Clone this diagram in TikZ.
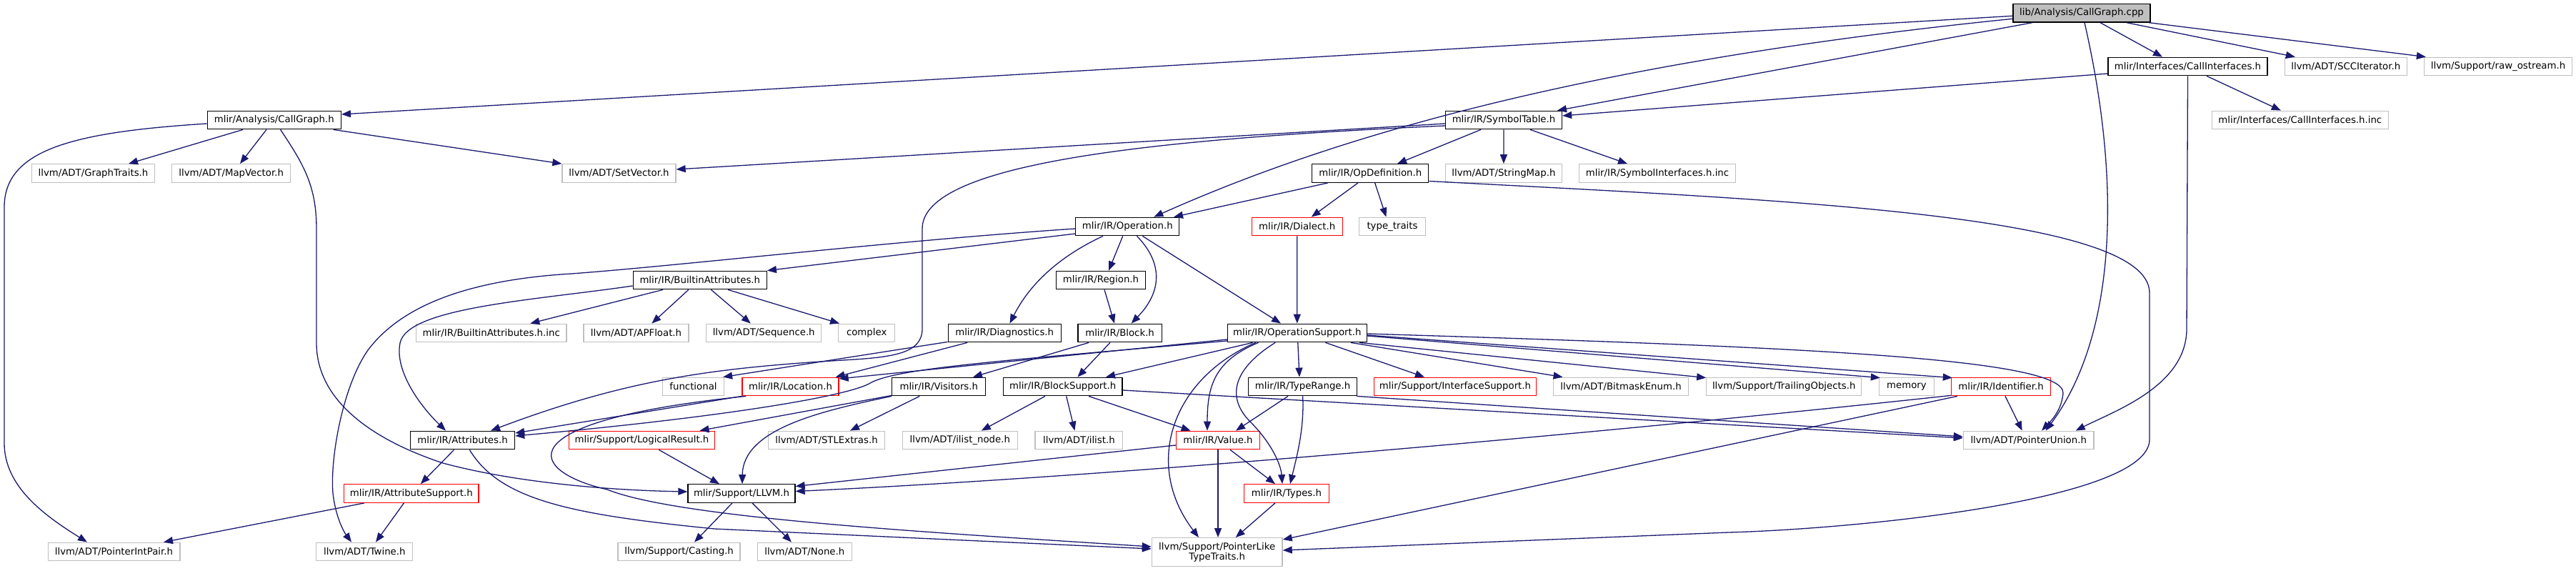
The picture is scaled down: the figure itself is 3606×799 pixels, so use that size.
\documentclass[tikz,border=0pt]{standalone}
\usepackage{fontspec}
\setmainfont{DejaVu Sans}
\usetikzlibrary{arrows.meta,calc}
\definecolor{edgec}{HTML}{191970}
\definecolor{grey75}{HTML}{BFBFBF}
\definecolor{tred}{HTML}{FF0000}
\begin{document}
\begin{tikzpicture}[x=1pt,y=-1pt,
  nb/.style={rectangle, inner sep=0pt, minimum height=25.5pt, line width=1.3pt, fill=white, font=\fontsize{13.3}{14}\selectfont, text=black},
  ndoc/.style={nb, draw=black},
  next/.style={nb, draw=grey75},
  nred/.style={nb, draw=tred},
  nroot/.style={nb, draw=black, fill=grey75},
  dep/.style={draw=edgec, line width=1.3pt, -{Triangle[length=13pt,width=10pt]}}
]
\useasboundingbox (0,0) rectangle (3606,799);

\node[nroot, minimum width=192pt] (cpp) at (2914,18.3) {lib/Analysis/CallGraph.cpp};
\node[ndoc, minimum width=223pt] (cih) at (3062.5,93) {mlir/Interfaces/CallInterfaces.h};
\node[next, minimum width=171pt] (scc) at (3283.8,93) {llvm/ADT/SCCIterator.h};
\node[next, minimum width=207pt] (raw) at (3497,93) {llvm/Support/raw\_ostream.h};
\node[ndoc, minimum width=187pt] (cgh) at (383.8,168) {mlir/Analysis/CallGraph.h};
\node[ndoc, minimum width=163pt] (sym) at (2105,168) {mlir/IR/SymbolTable.h};
\node[next, minimum width=247pt] (cihinc) at (3219.8,168) {mlir/Interfaces/CallInterfaces.h.inc};
\node[next, minimum width=172pt] (gt) at (130.5,242.5) {llvm/ADT/GraphTraits.h};
\node[next, minimum width=166pt] (mv) at (323.7,242.5) {llvm/ADT/MapVector.h};
\node[next, minimum width=159pt] (sv) at (866.5,242.5) {llvm/ADT/SetVector.h};
\node[ndoc, minimum width=163pt] (opdef) at (1918.3,242.5) {mlir/IR/OpDefinition.h};
\node[next, minimum width=163pt] (smap) at (2104.9,242.5) {llvm/ADT/StringMap.h};
\node[next, minimum width=219pt] (syminc) at (2320,242.5) {mlir/IR/SymbolInterfaces.h.inc};
\node[ndoc, minimum width=145pt] (op) at (1578.3,317) {mlir/IR/Operation.h};
\node[nred, minimum width=127pt] (dia) at (1815.7,317) {mlir/IR/Dialect.h};
\node[next, minimum width=92.5pt] (tt) at (1949,317) {type\_traits};
\node[ndoc, minimum width=187pt] (battr) at (979.8,392) {mlir/IR/BuiltinAttributes.h};
\node[ndoc, minimum width=125pt] (reg) at (1541,392) {mlir/IR/Region.h};
\node[next, minimum width=210.6pt] (bainc) at (687.7,466) {mlir/IR/BuiltinAttributes.h.inc};
\node[next, minimum width=147pt] (apf) at (890.5,466) {llvm/ADT/APFloat.h};
\node[next, minimum width=161pt] (seq) at (1069.2,466) {llvm/ADT/Sequence.h};
\node[next, minimum width=79pt] (cpx) at (1213.2,466) {complex};
\node[ndoc, minimum width=158pt] (diag) at (1406.2,466) {mlir/IR/Diagnostics.h};
\node[ndoc, minimum width=117.5pt] (blk) at (1567.6,466) {mlir/IR/Block.h};
\node[ndoc, minimum width=194.7pt] (ops) at (1815.8,466) {mlir/IR/OperationSupport.h};
\node[next, minimum width=86pt] (fun) at (970.5,541) {functional};
\node[nred, minimum width=135pt] (loc) at (1106.5,541) {mlir/IR/Location.h};
\node[ndoc, minimum width=131pt] (vis) at (1314.3,541) {mlir/IR/Visitors.h};
\node[ndoc, minimum width=166.5pt] (bsup) at (1487.7,541) {mlir/IR/BlockSupport.h};
\node[ndoc, minimum width=152pt] (tr) at (1823.6,541) {mlir/IR/TypeRange.h};
\node[nred, minimum width=226.5pt] (isup) at (2037,541) {mlir/Support/InterfaceSupport.h};
\node[next, minimum width=189pt] (bme) at (2269,541) {llvm/ADT/BitmaskEnum.h};
\node[next, minimum width=216.8pt] (trail) at (2497.2,541) {llvm/Support/TrailingObjects.h};
\node[next, minimum width=77pt] (mem) at (2669,541) {memory};
\node[nred, minimum width=139pt] (ident) at (2801,541) {mlir/IR/Identifier.h};
\node[ndoc, minimum width=146pt] (attr) at (647.6,616) {mlir/IR/Attributes.h};
\node[nred, minimum width=204pt] (lres) at (898.5,616) {mlir/Support/LogicalResult.h};
\node[next, minimum width=162.7pt] (stl) at (1157,616) {llvm/ADT/STLExtras.h};
\node[next, minimum width=161pt] (iln) at (1343.8,616) {llvm/ADT/ilist\_node.h};
\node[next, minimum width=122.6pt] (il) at (1510.4,616) {llvm/ADT/ilist.h};
\node[nred, minimum width=117pt] (val) at (1705,616) {mlir/IR/Value.h};
\node[next, minimum width=182.6pt] (pu) at (2839.7,616) {llvm/ADT/PointerUnion.h};
\node[nred, minimum width=188.4pt] (asup) at (575.8,690.5) {mlir/IR/AttributeSupport.h};
\node[ndoc, minimum width=150pt] (llvm) at (1038,690.5) {mlir/Support/LLVM.h};
\node[nred, minimum width=119pt] (types) at (1801,690.5) {mlir/IR/Types.h};
\node[next, minimum width=184.7pt] (pip) at (159.5,772) {llvm/ADT/PointerIntPair.h};
\node[next, minimum width=135pt] (twine) at (510.3,772) {llvm/ADT/Twine.h};
\node[next, minimum width=171pt] (cast) at (950.6,772) {llvm/Support/Casting.h};
\node[next, minimum width=132pt] (none) at (1126.3,772) {llvm/ADT/None.h};
\node[next, minimum width=182.7pt, minimum height=40pt, align=center] (plt) at (1703.7,772.7) {llvm/Support/PointerLike\\TypeTraits.h};

% CallGraph.cpp
\draw[dep] ($(cpp.west)+(0,4)$) -- ($(cgh.east)+(0,-8)$);
\draw[dep] ($(cpp.west)+(0,8)$) .. controls (2219,87) and (1865,192) .. ($(op.north)+(37,0)$);
\draw[dep] ($(cpp.south)+(-69,0)$) -- ($(sym.north)+(75,0)$);
\draw[dep] ($(cpp.south)+(26,0)$) -- ($(cih.north)+(-35.5,0)$);
\draw[dep] ($(cpp.south)+(63,0)$) -- ($(scc.north)+(-71,0)$);
\draw[dep] ($(cpp.south)+(94,0)$) -- ($(raw.north west)+(3,0)$);
\draw[dep] ($(cpp.south)+(4,0)$) .. controls (2975,280) and (2955,480) .. ($(pu.north)+(24,0)$);
% CallInterfaces.h
\draw[dep] ($(cih.west)+(0,10)$) -- ($(sym.east)+(0,-6)$);
\draw[dep] ($(cih.south)+(26.5,0)$) -- ($(cihinc.north)+(-27,0)$);
\draw[dep] (cih.south) -- (3061,460) .. controls (3061,540) and (2960,575) .. ($(pu.north)+(66,0)$);
% SymbolTable.h
\draw[dep] ($(sym.south)+(-32,0)$) -- ($(opdef.north)+(37.7,0)$);
\draw[dep] (sym.south) -- (smap.north);
\draw[dep] ($(sym.south)+(37,0)$) -- ($(syminc.north)+(-42,0)$);
\draw[dep] ($(sym.west)+(0,5)$) -- ($(sv.east)+(0,-5.5)$);
\draw[dep] ($(sym.west)+(0,8)$) .. controls (1600,195) and (1291,230) .. (1291,320) -- (1291,460) .. controls (1291,495) and (1250,500) .. (1180,504) .. controls (1000,515) and (880,530) .. ($(attr.north)+(39.4,0)$);
% CallGraph.h
\draw[dep] ($(cgh.south)+(-43.8,0)$) -- ($(gt.north)+(49.5,0)$);
\draw[dep] ($(cgh.south)+(-10.8,0)$) -- ($(mv.north)+(12.3,0)$);
\draw[dep] ($(cgh.south)+(82.8,0)$) -- (sv.north west);
\draw[dep] ($(cgh.west)+(0,5)$) .. controls (100,185) and (6,210) .. (6,290) -- (6,620) .. controls (6,680) and (60,720) .. ($(pip.north)+(-37.5,0)$);
\draw[dep] ($(cgh.south)+(8.8,0)$) .. controls (425,230) and (443,260) .. (443,320) -- (443,480) .. controls (443,560) and (520,615) .. (620,648) .. controls (720,675) and (850,686) .. ($(llvm.west)+(0,-2.5)$);
% Operation.h
\draw[dep] ($(op.west)+(0,10)$) -- (battr.north east);
\draw[dep] ($(op.west)+(0,3)$) .. controls (1250,337) and (950,372) .. (800,383) .. controls (650,392) and (560,430) .. (515,490) .. controls (480,540) and (462,640) .. (466,690) .. controls (470,725) and (482,745) .. ($(twine.north)+(-18.3,0)$);
\draw[dep] ($(op.south)+(-6.6,0)$) -- ($(reg.north)+(11,0)$);
\draw[dep] ($(op.south)+(-34.3,0)$) .. controls (1480,360) and (1440,400) .. ($(diag.north)+(7.3,0)$);
\draw[dep] ($(op.south)+(13.2,0)$) .. controls (1630,370) and (1625,410) .. ($(blk.north)+(16,0)$);
\draw[dep] ($(op.south)+(21.1,0)$) -- ($(ops.north)+(-22.8,0)$);
% OpDefinition.h
\draw[dep] ($(opdef.south)+(-59.3,0)$) -- ($(op.north)+(64.7,0)$);
\draw[dep] ($(opdef.south)+(-17.3,0)$) -- ($(dia.north)+(20,0)$);
\draw[dep] ($(opdef.south)+(6.3,0)$) -- ($(tt.north)+(-8.6,0)$);
\draw[dep] ($(opdef.east)+(0,11)$) .. controls (2500,280) and (3009,300) .. (3009,410) -- (3009,615) .. controls (3009,700) and (2600,740) .. (2420,745) -- ($(plt.east)+(0,-2.7)$);
% Dialect.h
\draw[dep] (dia.south) -- (ops.north);
% BuiltinAttributes.h
\draw[dep] ($(battr.south)+(-51.8,0)$) -- ($(bainc.north)+(54.6,0)$);
\draw[dep] ($(battr.south)+(-16,0)$) -- ($(apf.north)+(21.9,0)$);
\draw[dep] ($(battr.south)+(15.6,0)$) -- ($(seq.north)+(-18.4,0)$);
\draw[dep] ($(battr.south)+(39.2,0)$) -- ($(cpx.north west)+(2,0)$);
\draw[dep] ($(battr.west)+(0,8)$) .. controls (750,420) and (570,430) .. (560,480) .. controls (552,520) and (590,570) .. ($(attr.north)+(-23.6,0)$);
% Region.h
\draw[dep] ($(reg.south)+(5,0)$) -- ($(blk.north)+(-7.6,0)$);
% Diagnostics.h
\draw[dep] ($(diag.south west)+(0,-1)$) -- ($(fun.north east)+(-2,0)$);
\draw[dep] ($(diag.south)+(-52,0)$) -- ($(loc.north east)+(-5,0)$);
% Block.h
\draw[dep] ($(blk.south)+(-43.4,0)$) -- ($(vis.north)+(47.7,0)$);
\draw[dep] ($(blk.south)+(-13.6,0)$) -- ($(bsup.north)+(20.7,0)$);
% OperationSupport.h
\draw[dep] ($(ops.west)+(0,9)$) -- ($(loc.east)+(0,-11)$);
\draw[dep] ($(ops.west)+(0,11)$) .. controls (1400,505) and (1260,515) .. (1220,535) .. controls (1190,555) and (1000,585) .. ($(attr.east)+(0,-6)$);
\draw[dep] ($(ops.south)+(-62.2,0)$) -- ($(bsup.north)+(60.3,0)$);
\draw[dep] ($(ops.south)+(1,0)$) -- ($(tr.north)+(-4.6,0)$);
\draw[dep] ($(ops.south)+(39.6,0)$) -- ($(isup.north)+(-43,0)$);
\draw[dep] ($(ops.south)+(75,0)$) -- ($(bme.north)+(-81.5,0)$);
\draw[dep] ($(ops.south)+(87,0)$) -- ($(trail.north west)+(0,1)$);
\draw[dep] ($(ops.east)+(0,4)$) -- ($(mem.north west)+(2,1)$);
\draw[dep] ($(ops.east)+(0,3)$) -- ($(ident.north west)+(2,1)$);
\draw[dep] ($(ops.east)+(0,1)$) .. controls (2500,485) and (2890,500) .. (2888,550) .. controls (2886,575) and (2870,590) .. ($(pu.north)+(18.3,0)$);
\draw[dep] ($(ops.south)+(-54.3,0)$) .. controls (1700,505) and (1690,540) .. ($(val.north)+(-15,0)$);
\draw[dep] ($(ops.south)+(-30.6,0)$) .. controls (1720,520) and (1720,560) .. (1750,590) .. controls (1780,620) and (1793,650) .. ($(types.north)+(-6,0)$);
\draw[dep] ($(ops.south)+(-58,0)$) .. controls (1640,530) and (1600,650) .. ($(plt.north)+(-25.7,0)$);
% Visitors.h
\draw[dep] ($(vis.south west)+(0,-1)$) -- ($(lres.north)+(81,0)$);
\draw[dep] (vis.south west) .. controls (1150,575) and (1040,600) .. ($(llvm.north)+(1,0)$);
\draw[dep] ($(vis.south)+(-27,0)$) -- ($(stl.north)+(33,0)$);
% BlockSupport.h
\draw[dep] ($(bsup.south)+(-24.7,0)$) -- ($(iln.north)+(30,0)$);
\draw[dep] ($(bsup.south)+(5,0)$) -- ($(il.north)+(-6,0)$);
\draw[dep] ($(bsup.south)+(36.3,0)$) -- ($(val.north)+(-38.4,0)$);
\draw[dep] ($(bsup.east)+(0,5)$) -- ($(pu.west)+(0,-3)$);
% TypeRange.h
\draw[dep] ($(tr.south)+(-20.6,0)$) -- ($(val.north)+(25,0)$);
\draw[dep] (tr.south) .. controls (1826,600) and (1815,640) .. ($(types.north)+(5,0)$);
\draw[dep] ($(tr.south east)+(-1,0)$) -- ($(pu.west)+(0,-5)$);
% Value.h
\draw[dep] ($(val.south)+(17,0)$) -- ($(types.north)+(-16,0)$);
\draw[dep] (val.south) -- ($(plt.north)+(1.3,0)$);
\draw[dep] ($(val.west)+(0,7)$) -- ($(llvm.east)+(0,-10)$);
% Types.h
\draw[dep] ($(types.south)+(-16,0)$) -- ($(plt.north)+(26,0)$);
% Identifier.h
\draw[dep] ($(ident.south)+(6,0)$) -- ($(pu.north)+(-9,0)$);
\draw[dep] ($(ident.south west)+(0,-1)$) .. controls (2300,600) and (1600,665) .. ($(llvm.east)+(0,-3)$);
\draw[dep] ($(ident.south west)+(9,0)$) -- ($(plt.north east)+(0,3)$);
% Attributes.h
\draw[dep] ($(attr.south)+(-12,0)$) -- ($(asup.north)+(13,0)$);
\draw[dep] ($(attr.south)+(9.7,0)$) .. controls (700,700) and (800,720) .. (1000,740) -- ($(plt.west)+(0,-4.7)$);
% Location.h
\draw[dep] (loc.south west) -- ($(attr.east)+(0,-10)$);
\draw[dep] ($(loc.south west)+(6,0)$) .. controls (700,590) and (740,660) .. (850,685) .. controls (950,725) and (1300,745) .. ($(plt.west)+(0,-7.7)$);
% LogicalResult.h
\draw[dep] ($(lres.south)+(23.8,0)$) -- ($(llvm.north)+(-31,0)$);
% AttributeSupport.h
\draw[dep] ($(asup.south)+(-65.8,0)$) -- ($(pip.north)+(69.5,0)$);
\draw[dep] ($(asup.south)+(-10.4,0)$) -- ($(twine.north)+(15.7,0)$);
% LLVM.h
\draw[dep] ($(llvm.south)+(-13,0)$) -- ($(cast.north)+(21.4,0)$);
\draw[dep] ($(llvm.south)+(15,0)$) -- ($(none.north)+(-18.3,0)$);
\end{tikzpicture}
\end{document}
